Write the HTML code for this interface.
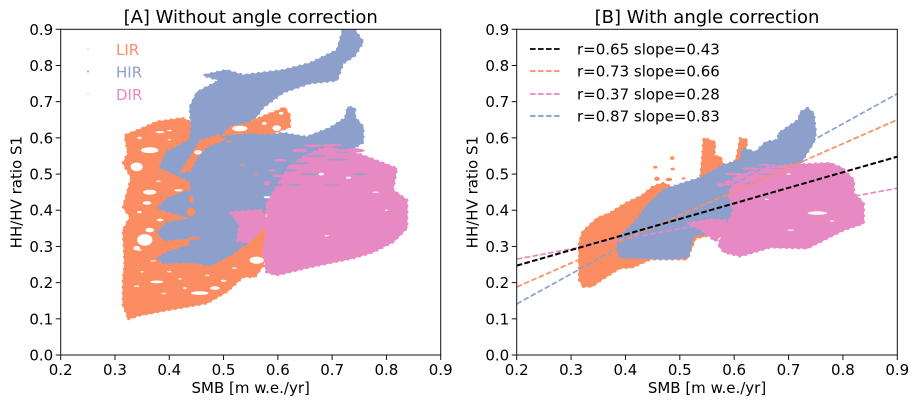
<!DOCTYPE html>
<html lang="en">
<head>
<meta charset="utf-8">
<title>HH/HV ratio versus SMB</title>
<style>
html,body{margin:0;padding:0;background:#fff;width:917px;height:405px;overflow:hidden}
svg{display:block}
text{font-family:"DejaVu Sans","Liberation Sans",sans-serif;fill:#000}
</style>
</head>
<body>
<svg id="chart" xmlns="http://www.w3.org/2000/svg" width="917" height="405" viewBox="0 0 917 405"></svg>
<script>
// ---------- data (SMB, HH/HV ratio) ----------
const xTicks = [0.2,0.3,0.4,0.5,0.6,0.7,0.8,0.9];
const yTicks = [0.0,0.1,0.2,0.3,0.4,0.5,0.6,0.7,0.8,0.9];
const regionColors = {LIR:'#fc8d62',HIR:'#8da0cb',DIR:'#e78ac3'};
const legendLeft = ['LIR','HIR','DIR'];

const lirA = [[.325,.10],[.346,.11],[.395,.124],[.469,.143],[.506,.175],[.536,.216],[.558,.216],[.573,.248],[.578,.309],[.575,.50],[.58,.607],[.622,.63],[.622,.662],[.612,.684],[.60,.675],[.579,.663],[.549,.645],[.512,.64],[.444,.640],[.425,.654],[.377,.644],[.352,.627],[.318,.607],[.324,.558],[.315,.530],[.33,.49],[.324,.456],[.315,.409],[.328,.381],[.315,.345],[.318,.254],[.315,.207],[.315,.138]];
const hirA = [[.720,.897],[.742,.897],[.757,.865],[.742,.828],[.720,.806],[.709,.759],[.659,.751],[.610,.726],[.573,.685],[.561,.66],[.545,.644],[.512,.635],[.497,.613],[.494,.603],[.549,.61],[.58,.607],[.610,.613],[.653,.602],[.696,.627],[.724,.654],[.729,.685],[.742,.682],[.742,.657],[.757,.630],[.757,.588],[.739,.571],[.70,.50],[.62,.42],[.575,.40],[.573,.364],[.543,.309],[.512,.276],[.475,.248],[.438,.257],[.389,.254],[.379,.268],[.395,.282],[.438,.304],[.438,.323],[.389,.318],[.379,.340],[.395,.364],[.438,.378],[.379,.406],[.397,.433],[.44,.456],[.44,.478],[.425,.49],[.383,.519],[.395,.56],[.438,.594],[.441,.63],[.438,.685],[.451,.726],[.493,.759],[.463,.773],[.505,.787],[.536,.773],[.610,.787],[.659,.806],[.709,.842]];
const dirA = [[.58,.42],[.60,.47],[.62,.52],[.65,.55],[.69,.575],[.75,.555],[.819,.516],[.812,.456],[.838,.428],[.838,.351],[.812,.312],[.775,.284],[.739,.268],[.659,.243],[.598,.221],[.579,.229],[.573,.282],[.580,.364]];
const dirPatchA = [[.513,.395],[.570,.40],[.58,.36],[.545,.31],[.525,.315],[.53,.36]];
const dirFlecksA = [[.604,.538,.012,.004],[.59,.51,.008,.003],[.58,.475,.006,.006],[.64,.565,.014,.005],[.665,.578,.016,.004],[.70,.58,.02,.003],[.60,.495,.01,.004],[.74,.565,.02,.006]];
const lirStreakA = [[.49,.607],[.457,.592],[.445,.56],[.43,.525],[.42,.505],[.438,.51],[.452,.55],[.468,.575],[.50,.595]];
const lirFlecksA = [[.41,.378,.025,.005],[.44,.395,.008,.012],[.44,.43,.004,.012],[.445,.322,.012,.004],[.415,.304,.025,.003],[.553,.29,.025,.012],[.56,.50,.004,.002],[.535,.525,.004,.002],[.51,.59,.006,.002],[.56,.44,.002,.002]];
const holesA = [[.364,.450,.012,.007],[.355,.318,.014,.016],[.340,.295,.006,.006],[.377,.202,.012,.004],[.456,.171,.016,.005],[.484,.185,.009,.005],[.500,.205,.005,.003],[.429,.185,.003,.003],[.561,.262,.013,.010],[.359,.42,.008,.005],[.383,.373,.006,.004],[.364,.345,.008,.006],[.364,.566,.016,.008],[.383,.616,.008,.003],[.34,.52,.011,.012],[.417,.455,.008,.003],[.53,.626,.014,.008],[.598,.627,.008,.008],[.575,.64,.004,.004],[.606,.668,.004,.004],[.58,.436,.006,.003],[.345,.29,.004,.002],[.37,.26,.005,.002],[.40,.23,.004,.002],[.34,.19,.005,.002],[.42,.21,.003,.002],[.35,.23,.003,.002],[.47,.22,.004,.002],[.52,.24,.004,.002],[.39,.17,.004,.002],[.345,.395,.004,.003],[.38,.48,.004,.002],[.345,.60,.004,.003],[.40,.62,.004,.002],[.40,.595,.003,.002]];
const hirFlecksA = [[.62,.51,.016,.004],[.60,.47,.01,.004],[.64,.53,.018,.004],[.66,.50,.02,.003],[.67,.55,.02,.003],[.71,.54,.02,.003],[.75,.50,.015,.003],[.70,.47,.015,.002],[.72,.56,.014,.002],[.63,.47,.012,.003]];
const dirHolesA = [[.68,.50,.005,.004],[.73,.49,.005,.003],[.78,.45,.006,.002],[.69,.33,.004,.002],[.80,.40,.003,.002],[.453,.56,.007,.006]];

const lirB = [[.323,.189],[.339,.19],[.36,.212],[.39,.24],[.414,.243],[.446,.265],[.513,.265],[.529,.323],[.556,.331],[.57,.36],[.54,.40],[.50,.42],[.49,.46],[.47,.475],[.45,.465],[.43,.44],[.40,.419],[.372,.392],[.348,.378],[.321,.34],[.315,.309],[.315,.207]];
const lirSpike1B = [[.525,.47],[.538,.492],[.541,.538],[.544,.599],[.565,.588],[.563,.55],[.575,.547],[.585,.50]];
const lirSpike2B = [[.595,.52],[.605,.547],[.611,.599],[.624,.594],[.621,.566],[.625,.53]];
const lirDotsB = [[.455,.519,.004,.004],[.486,.544,.004,.005],[.487,.514,.004,.004],[.458,.487,.005,.006],[.48,.485,.006,.005],[.507,.488,.004,.003]];
const hirB = [[.735,.682],[.746,.668],[.75,.613],[.746,.588],[.722,.53],[.64,.46],[.593,.373],[.562,.337],[.525,.331],[.516,.27],[.477,.265],[.433,.268],[.39,.27],[.385,.298],[.39,.326],[.421,.373],[.44,.414],[.47,.456],[.507,.475],[.538,.489],[.58,.525],[.611,.538],[.617,.571],[.639,.56],[.658,.588],[.68,.594],[.682,.613],[.718,.649],[.722,.671]];
const dirB = [[.59,.44],[.60,.49],[.65,.515],[.70,.525],[.777,.53],[.80,.515],[.82,.483],[.82,.447],[.838,.419],[.838,.364],[.801,.345],[.765,.318],[.735,.295],[.667,.298],[.611,.273],[.581,.284],[.571,.304],[.581,.345],[.599,.40]];
const dirPatchB = [[.516,.364],[.56,.375],[.585,.37],[.58,.335],[.565,.315],[.54,.345]];
const dirFlecksB = [[.60,.50,.016,.004],[.63,.515,.016,.003],[.575,.47,.008,.005],[.66,.525,.016,.003],[.59,.475,.008,.008]];
const holesB = [[.753,.392,.018,.005],[.704,.345,.006,.002],[.78,.37,.004,.002],[.66,.43,.004,.002],[.70,.50,.004,.002]];
const hirFlecksB = [[.66,.50,.016,.003],[.68,.515,.016,.002],[.63,.475,.012,.003]];

const fitLabels = ['r=0.65 slope=0.43','r=0.73 slope=0.66','r=0.37 slope=0.28','r=0.87 slope=0.83'];
const fitNames = ['all','lir','dir','hir'];
const fitColors = ['#000000','#fc8d62','#e78ac3','#8da0cb'];
const fitSlopes = [0.43,0.66,0.28,0.83];
const fitIntercepts = [0.161,0.056,0.209,-0.025];

// ---------- helpers ----------
const NS = 'http://www.w3.org/2000/svg';
const svg = document.getElementById('chart');
function make(tag, attrs, text){
  const e = document.createElementNS(NS, tag);
  for (const k in attrs) e.setAttribute(k, attrs[k]);
  if (text !== undefined) e.textContent = text;
  return e;
}
const H = {top:29.3,bottom:355};
const xMin = 0.2, xMax = 0.9, yMin = 0, yMax = 0.9;
function sx(panel, v){ return panel.left + (v-xMin)/(xMax-xMin)*(panel.right-panel.left); }
function sy(v){ return H.bottom - (v-yMin)/(yMax-yMin)*(H.bottom-H.top); }

function cloud(panel, parent, pts, color, name){
  const str = pts.map(p => sx(panel,p[0]).toFixed(1)+','+sy(p[1]).toFixed(1)).join(' ');
  const g = make('polygon',{points:str,fill:color,stroke:color,'stroke-width':1,'stroke-linejoin':'round'});
  
  
  parent.appendChild(g);
  const fringe = make('polygon',{points:str,fill:'none',stroke:color,'stroke-width':3,'stroke-linecap':'round','stroke-dasharray':'0 6'});
  
  
  parent.appendChild(fringe);
}
function blobs(panel, parent, list, color, name, opacity){
  const g = make('g',{fill:color,opacity:opacity});
  
  
  list.forEach(b => {
    const rx = (b[2])/(xMax-xMin)*(panel.right-panel.left);
    const ry = (b[3])/(yMax-yMin)*(H.bottom-H.top);
    g.appendChild(make('ellipse',{cx:sx(panel,b[0]).toFixed(1),cy:sy(b[1]).toFixed(1),rx:rx.toFixed(1),ry:ry.toFixed(1)}));
  });
  parent.appendChild(g);
}
function axes(panel, key, title){
  const L = panel.left, R = panel.right;
  const titleEl = make('text',{x:(L+R)/2,y:23,'text-anchor':'middle','font-size':18},title);
  
  
  svg.appendChild(titleEl);
  const frame = make('rect',{x:L,y:H.top,width:R-L,height:H.bottom-H.top,fill:'none',stroke:'#111','stroke-width':1});
  
  
  svg.appendChild(frame);
  xTicks.forEach(v => {
    const x = sx(panel,v);
    const t = make('line',{x1:x,x2:x,y1:H.bottom,y2:H.bottom+5,stroke:'#111','stroke-width':1});
    
    
    svg.appendChild(t);
    const l = make('text',{x:x,y:H.bottom+20,'text-anchor':'middle','font-size':15},v.toFixed(1));
    
    
    svg.appendChild(l);
  });
  yTicks.forEach(v => {
    const y = sy(v);
    const t = make('line',{x1:L-5,x2:L,y1:y,y2:y,stroke:'#111','stroke-width':1});
    
    
    svg.appendChild(t);
    const l = make('text',{x:L-7.5,y:y+5.5,'text-anchor':'end','font-size':15},v.toFixed(1));
    
    
    svg.appendChild(l);
  });
  const xl = make('text',{x:(L+R)/2,y:393,'text-anchor':'middle','font-size':15},'SMB [m w.e./yr]');
  
  
  svg.appendChild(xl);
  const yx = L-39, yy = (H.top+H.bottom)/2;
  const yl = make('text',{x:yx,y:yy,'text-anchor':'middle','font-size':15,transform:'rotate(-90 '+yx+' '+yy+')'},'HH/HV ratio S1');
  
  
  svg.appendChild(yl);
}

// ---------- panel A ----------
const bg = make('rect',{x:0,y:0,width:917,height:405,fill:'#fff'});


svg.appendChild(bg);

const panelA = {left:60.7,right:440.7};
const gA = make('g',{});


svg.appendChild(gA);
cloud(panelA, gA, lirA, regionColors.LIR, 'lir-cloud-a');
cloud(panelA, gA, hirA, regionColors.HIR, 'hir-cloud-a');
cloud(panelA, gA, lirStreakA, regionColors.LIR, 'lir-streak-a');
blobs(panelA, gA, lirFlecksA, regionColors.LIR, 'lir-flecks-a', 1);
cloud(panelA, gA, dirA, regionColors.DIR, 'dir-cloud-a');
cloud(panelA, gA, dirPatchA, regionColors.DIR, 'dir-patch-a');
blobs(panelA, gA, dirFlecksA, regionColors.DIR, 'dir-flecks-a', 1);
blobs(panelA, gA, hirFlecksA, regionColors.HIR, 'hir-flecks-a', 0.75);
blobs(panelA, gA, holesA, '#fff', 'lir-gaps-a', 1);
blobs(panelA, gA, dirHolesA, '#fff', 'dir-gaps-a', 0.9);
axes(panelA, 'panel-a', '[A] Without angle correction');

const legendYs = [49,71.5,94];
legendLeft.forEach((name,i) => {
  const dot = make('circle',{cx:88,cy:legendYs[i],r:i===1?1:0.7,fill:regionColors[name],opacity:i===1?1:0.6});
  
  
  svg.appendChild(dot);
  const t = make('text',{x:116,y:legendYs[i]+6,'font-size':15});
  t.textContent = name;
  t.style.fill = regionColors[name];
  
  
  svg.appendChild(t);
});

// ---------- panel B ----------
const panelB = {left:516.7,right:897.3};
const gB = make('g',{});


svg.appendChild(gB);
cloud(panelB, gB, lirB, regionColors.LIR, 'lir-cloud-b');
cloud(panelB, gB, lirSpike1B, regionColors.LIR, 'lir-spike-one-b');
cloud(panelB, gB, lirSpike2B, regionColors.LIR, 'lir-spike-two-b');
blobs(panelB, gB, lirDotsB, regionColors.LIR, 'lir-dots-b', 1);
cloud(panelB, gB, hirB, regionColors.HIR, 'hir-cloud-b');
cloud(panelB, gB, dirB, regionColors.DIR, 'dir-cloud-b');
cloud(panelB, gB, dirPatchB, regionColors.DIR, 'dir-patch-b');
blobs(panelB, gB, dirFlecksB, regionColors.DIR, 'dir-flecks-b', 1);
blobs(panelB, gB, hirFlecksB, regionColors.HIR, 'hir-flecks-b', 0.6);
blobs(panelB, gB, holesB, '#fff', 'dir-gaps-b', 0.9);

const drawOrder = [2,3,1,0];
drawOrder.forEach(i => {
  const ln = make('line',{
    x1:sx(panelB,xMin),y1:sy(fitSlopes[i]*xMin+fitIntercepts[i]),
    x2:sx(panelB,xMax),y2:sy(fitSlopes[i]*xMax+fitIntercepts[i]),
    stroke:fitColors[i],'stroke-width':i===0?2:1.7,'stroke-dasharray':'5.6 2.4'});
  
  
  svg.appendChild(ln);
});
axes(panelB, 'panel-b', '[B] With angle correction');

const legendYsB = [49,71,94,116];
fitLabels.forEach((label,i) => {
  const ln = make('line',{x1:530,x2:560,y1:legendYsB[i],y2:legendYsB[i],stroke:fitColors[i],'stroke-width':1.7,'stroke-dasharray':'5.6 2.4'});
  
  
  svg.appendChild(ln);
  const t = make('text',{x:577,y:legendYsB[i]+5.5,'font-size':15},label);
  
  
  svg.appendChild(t);
});
</script>
</body>
</html>
